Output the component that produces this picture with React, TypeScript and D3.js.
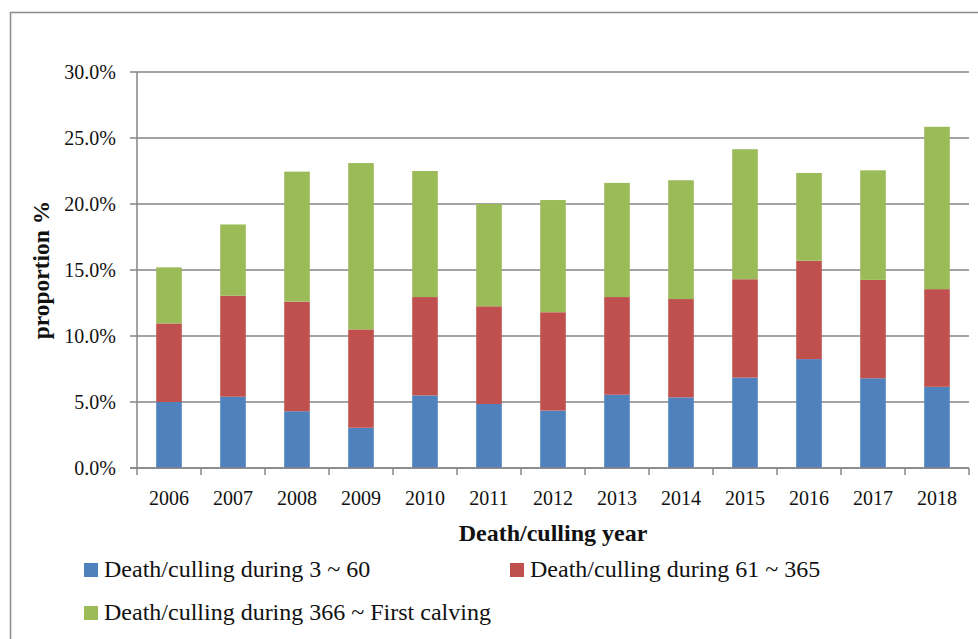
import React from 'react';
import * as d3 from 'd3';

// values (percent)
const years = ['2006', '2007', '2008', '2009', '2010', '2011', '2012', '2013', '2014', '2015', '2016', '2017', '2018'];
const early = [5.0, 5.4, 4.3, 3.05, 5.5, 4.85, 4.35, 5.55, 5.35, 6.85, 8.25, 6.8, 6.15];
const middle = [5.95, 7.65, 8.3, 7.45, 7.45, 7.4, 7.45, 7.4, 7.45, 7.45, 7.45, 7.45, 7.4];
const late = [4.25, 5.4, 9.85, 12.6, 9.55, 7.75, 8.5, 8.65, 9.0, 9.85, 6.65, 8.3, 12.3];
const seriesNames = [
  'Death/culling during 3 ~ 60',
  'Death/culling during 61 ~ 365',
  'Death/culling during 366 ~ First calving',
];
const yTicks = [0, 5, 10, 15, 20, 25, 30];

const colors = ['#4F81BD', '#C0504D', '#9BBB59'];
const grid = '#868686';
const font = '"Liberation Serif", "Times New Roman", serif';

const App = () => {
  const left = 137;
  const right = 969;
  const top = 72;
  const bottom = 468;

  const x = d3.scaleBand<string>().domain(years).range([left, right]).paddingInner(0.6).paddingOuter(0.3);
  const y = d3.scaleLinear().domain([0, 30]).range([bottom, top]);
  const step = x.step();

  const rows = years.map((yr, i) => ({ year: yr, a: early[i], b: middle[i], c: late[i] }));
  const stacked = d3.stack<any>().keys(['a', 'b', 'c'])(rows);

  return (
    <svg
      width={978}
      height={639}
      style={{ position: 'absolute', left: 0, top: 0, background: '#fff' }}
      fontFamily={font}
    >
      <rect x={10.5} y={12.5} width={975} height={640} fill="#fff" stroke="#8c8c8c" strokeWidth={1.5} />

      {/* gridlines */}
      {yTicks.map((t) => (
        <g key={t}>
          <line x1={left - 7} x2={right} y1={y(t)} y2={y(t)} stroke={grid} strokeWidth={1.5} />
          <text x={116} y={y(t)} dy="0.35em" textAnchor="end" fontSize={20} fill="#111">
            {t.toFixed(1) + '%'}
          </text>
        </g>
      ))}

      {/* bars */}
      {stacked.map((layer, si) => (
        <g key={si} fill={colors[si]}>
          {layer.map((d, i) => (
            <rect
              key={i}
              x={x(years[i])}
              y={y(d[1])}
              width={x.bandwidth()}
              height={y(d[0]) - y(d[1])}
            />
          ))}
        </g>
      ))}

      {/* axes */}
      <line x1={left} x2={left} y1={top} y2={bottom} stroke={grid} strokeWidth={1.5} />
      <line x1={left - 7} x2={right} y1={bottom} y2={bottom} stroke={grid} strokeWidth={1.5} />
      {d3.range(years.length + 1).map((k) => (
        <line key={k} x1={left + step * k} x2={left + step * k} y1={bottom} y2={bottom + 7} stroke={grid} strokeWidth={1.5} />
      ))}
      {years.map((yr) => (
        <text key={yr} x={(x(yr) as number) + x.bandwidth() / 2} y={505} textAnchor="middle" fontSize={20} fill="#111">
          {yr}
        </text>
      ))}

      <text x={553} y={541} textAnchor="middle" fontSize={24} fontWeight="bold" fill="#111">
        Death/culling year
      </text>
      <text
        transform={`translate(49,${(top + bottom) / 2}) rotate(-90)`}
        textAnchor="middle"
        fontSize={23.5}
        fontWeight="bold"
        fill="#111"
      >
        proportion %
      </text>

      {/* legend */}
      {seriesNames.map((name, i) => {
        const lx = i === 1 ? 510 : 84;
        const ly = i === 2 ? 620 : 577;
        return (
          <g key={name}>
            <rect x={lx} y={ly - 14} width={14} height={14} fill={colors[i]} />
            <text x={lx + 20} y={ly} fontSize={24} fill="#111">
              {name}
            </text>
          </g>
        );
      })}
    </svg>
  );
};

export default App;
